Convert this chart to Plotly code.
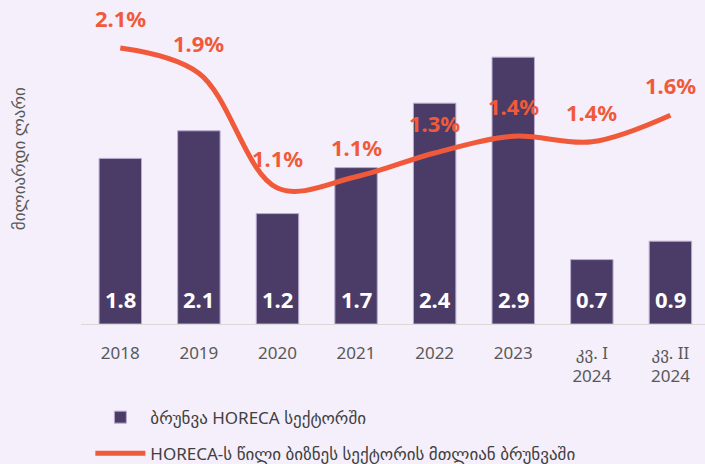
import plotly.graph_objects as go

categories = ["2018", "2019", "2020", "2021", "2022", "2023", "კვ. I<br>2024", "კვ. II<br>2024"]
turnover_bn_gel = [1.8, 2.1, 1.2, 1.7, 2.4, 2.9, 0.7, 0.9]
share_pct = [2.06, 1.88, 1.06, 1.14, 1.31, 1.43, 1.39, 1.58]

bar_name = "ბრუნვა HORECA სექტორში"
line_name = "HORECA-ს წილი ბიზნეს სექტორის მთლიან ბრუნვაში"
y_title = "მილიარდი ლარი"

BG = "#F4EFFA"
BAR = "#4B3C67"
LINE = "#F05A3A"
FONT = "Noto Sans, DejaVu Sans, sans-serif"

fig = go.Figure()
fig.add_trace(go.Bar(
    x=categories, y=turnover_bn_gel, name=bar_name,
    marker=dict(color=BAR, line=dict(color="#B9ACCF", width=1)),
    width=0.54, legendgroup="a", hoverinfo="skip",
))
fig.add_trace(go.Scatter(
    x=categories, y=share_pct, name=line_name, yaxis="y2",
    mode="lines", line=dict(color=LINE, width=5, shape="spline", smoothing=1.0),
    legendgroup="b", hoverinfo="skip",
))

annotations = []
for i, v in enumerate(turnover_bn_gel):
    annotations.append(dict(
        x=i, y=0, xref="x", yref="y", text=f"<b>{v:.1f}</b>", showarrow=False,
        yshift=25, font=dict(color="white", size=22, family=FONT),
    ))
for i, v in enumerate(share_pct):
    annotations.append(dict(
        x=i, y=v, xref="x", yref="y2", text=f"<b>{v:.1f}%</b>", showarrow=False,
        yshift=30, font=dict(color=LINE, size=22, family=FONT),
    ))
annotations.append(dict(
    x=0, y=0.525, xref="paper", yref="paper", xshift=-63, xanchor="center",
    text=y_title, textangle=-90, showarrow=False,
    font=dict(color="#595959", size=17, family=FONT),
))

fig.update_layout(
    width=705, height=464,
    margin=dict(l=81, r=0, t=10, b=140, autoexpand=False),
    paper_bgcolor=BG, plot_bgcolor=BG,
    font=dict(family=FONT, color="#595959"),
    showlegend=True,
    legend=dict(
        orientation="v", x=0.015, xanchor="left", y=-0.47, yanchor="bottom",
        font=dict(size=17, color="#404040", family=FONT),
        itemwidth=50, tracegroupgap=11, bgcolor="rgba(0,0,0,0)",
    ),
    xaxis=dict(
        range=[-0.5, 7.44], showgrid=False, showline=True, linecolor="#D9D9D9",
        linewidth=1, ticks="", tickfont=dict(size=17, color="#595959", family=FONT),
        ticklabelstandoff=14, zeroline=False, automargin=False,
    ),
    yaxis=dict(range=[0, 3.413], showgrid=False, showticklabels=False, zeroline=False,
               automargin=False),
    yaxis2=dict(range=[0.089, 2.331], overlaying="y", side="right", showgrid=False,
                showticklabels=False, zeroline=False, automargin=False),
    annotations=annotations,
)

fig.write_html("out.html", config={"displayModeBar": False},
               post_script="document.body.style.margin='0';document.body.style.padding='0';")
